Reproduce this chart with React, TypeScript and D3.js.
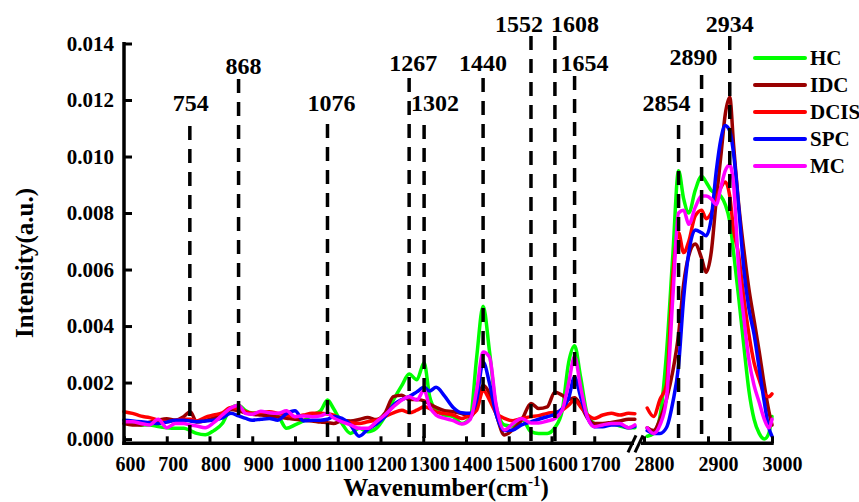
import { useEffect, useRef } from "react";
import * as d3 from "d3";

// fingerprint region (left part of the broken axis)
const lowWavenumbers = [
  600, 620, 640, 660, 680, 700, 720, 740, 755, 770,
  790, 810, 830, 850, 868, 885, 900, 920, 940, 960,
  980, 1000, 1020, 1040, 1060, 1076, 1090, 1110, 1130, 1150,
  1170, 1190, 1210, 1230, 1250, 1267, 1285, 1302, 1315, 1330,
  1350, 1370, 1390, 1410, 1425, 1440, 1455, 1470, 1490, 1510,
  1530, 1552, 1570, 1590, 1608, 1625, 1640, 1654, 1668, 1685,
  1700, 1720, 1740, 1760, 1780, 1795,
];

// high wavenumber region (right part)
const highWavenumbers = [
  2805, 2815, 2825, 2835, 2845, 2854, 2862, 2870, 2880, 2890,
  2897, 2905, 2913, 2920, 2927, 2934, 2940, 2948, 2956, 2964,
  2972, 2980, 2988, 2995, 3000,
];

const hcLow = [
  0.00067, 0.00058, 0.0005, 0.0005, 0.00044, 0.0004, 0.00038, 0.00038, 0.0003, 0.0002,
  0.00015, 0.0003, 0.00055, 0.0011, 0.0012, 0.001, 0.00092, 0.00091, 0.00085, 0.0008,
  0.00038, 0.0005, 0.00065, 0.00085, 0.001, 0.00138, 0.00108, 0.00055, 0.0002, 0.00038,
  0.00026, 0.00038, 0.00079, 0.00138, 0.0019, 0.0023, 0.0021, 0.0027, 0.0015, 0.00102,
  0.00085, 0.00079, 0.00055, 0.00075, 0.0029, 0.0047, 0.0031, 0.0012, 0.0005, 0.00046,
  0.00073, 0.00026, 0.0002, 0.0002, 0.00041, 0.001, 0.0027, 0.0033, 0.0022, 0.0008,
  0.00055, 0.00046, 0.00055, 0.00046, 0.0004, 0.0004,
];
const idcLow = [
  0.00055, 0.0005, 0.0005, 0.0006, 0.00067, 0.00072, 0.00067, 0.0008, 0.00097, 0.0006,
  0.00065, 0.00075, 0.00085, 0.00105, 0.001, 0.00092, 0.00088, 0.00085, 0.00082, 0.00078,
  0.00074, 0.0007, 0.00067, 0.00064, 0.0006, 0.00058, 0.00055, 0.00065, 0.00064, 0.00069,
  0.00076, 0.00069, 0.00091, 0.0015, 0.00155, 0.0014, 0.0014, 0.00135, 0.00124, 0.00112,
  0.001, 0.00097, 0.0009, 0.00079, 0.00114, 0.0019, 0.00161, 0.00091, 0.00014, 0.00034,
  0.00067, 0.00126, 0.00108, 0.00114, 0.00167, 0.00155, 0.0014, 0.00146, 0.0012, 0.00073,
  0.00055, 0.00055, 0.00059, 0.00064, 0.0007, 0.0007,
];
const dcisLow = [
  0.00097, 0.00091, 0.00081, 0.00076, 0.00067, 0.00061, 0.00067, 0.0007, 0.0007, 0.00064,
  0.00077, 0.00085, 0.00093, 0.00112, 0.00108, 0.00097, 0.00091, 0.00095, 0.00097, 0.00091,
  0.00085, 0.00079, 0.00085, 0.00091, 0.00091, 0.00089, 0.00085, 0.00065, 0.00058, 0.00055,
  0.00061, 0.00067, 0.00079, 0.00093, 0.00102, 0.00093, 0.00102, 0.00114, 0.00108, 0.00096,
  0.0009, 0.00085, 0.00073, 0.00085, 0.00102, 0.00173, 0.00138, 0.00093, 0.00073, 0.00065,
  0.00073, 0.00079, 0.00083, 0.00091, 0.00095, 0.00102, 0.0012, 0.00138, 0.00114, 0.00085,
  0.00073, 0.00085, 0.00091, 0.00085, 0.00091, 0.0009,
];
const spcLow = [
  0.00067, 0.00064, 0.00061, 0.00058, 0.00055, 0.0006, 0.00067, 0.00067, 0.00064, 0.00061,
  0.00064, 0.00067, 0.00075, 0.00091, 0.00082, 0.00073, 0.00067, 0.0007, 0.00073, 0.00067,
  0.0009, 0.001, 0.00064, 0.00067, 0.00067, 0.0007, 0.0008, 0.00073, 0.0005, 0.0001,
  0.00034, 0.00053, 0.00079, 0.0012, 0.0014, 0.0015, 0.00167, 0.00183, 0.0017, 0.00183,
  0.00152, 0.00112, 0.00093, 0.00091, 0.00138, 0.00273, 0.00197, 0.00091, 0.0003, 0.00032,
  0.0005, 0.00061, 0.0007, 0.00079, 0.00088, 0.00108, 0.00144, 0.0022, 0.0015, 0.00073,
  0.00044, 0.00044, 0.0005, 0.0005, 0.0004, 0.00045,
];
const mcLow = [
  0.00061, 0.00061, 0.00055, 0.0005, 0.0007, 0.0004, 0.00055, 0.00055, 0.0005, 0.00046,
  0.0004, 0.00058, 0.00085, 0.0011, 0.0012, 0.0009, 0.00088, 0.00098, 0.00093, 0.00091,
  0.001, 0.00079, 0.00082, 0.00079, 0.00082, 0.00091, 0.00075, 0.00061, 0.0005, 0.00038,
  0.00038, 0.00061, 0.00085, 0.00114, 0.00138, 0.0015, 0.00138, 0.00173, 0.00114, 0.00085,
  0.00073, 0.00065, 0.00053, 0.0007, 0.00173, 0.00308, 0.0029, 0.00126, 0.00032, 0.00055,
  0.00073, 0.00057, 0.00057, 0.00064, 0.00073, 0.00102, 0.00197, 0.00291, 0.00185, 0.00073,
  0.00044, 0.0005, 0.00055, 0.00055, 0.0004, 0.0005,
];

const hcHigh = [
  0.0001, 0.0002, 0.0008, 0.003, 0.0065, 0.0095, 0.0085, 0.008, 0.0088, 0.0093,
  0.0091, 0.0088, 0.0087, 0.0086, 0.0083, 0.0077, 0.0066, 0.005, 0.0033, 0.0017,
  0.0007, 0.0002, 0.0, 0.0002, 0.0008,
];
const idcHigh = [
  0.0004, 0.0003, 0.0007, 0.0014, 0.0024, 0.0037, 0.0055, 0.0065, 0.0069, 0.0064,
  0.0059, 0.0066, 0.0085, 0.01, 0.0115, 0.0121, 0.0104, 0.0083, 0.0067, 0.0053,
  0.0042, 0.0031, 0.0019, 0.001, 0.0005,
];
const dcisHigh = [
  0.0011, 0.0008, 0.0014, 0.0019, 0.0058, 0.0073, 0.0066, 0.007, 0.0079, 0.0081,
  0.0078, 0.008, 0.0085, 0.0089, 0.0091, 0.0086, 0.0074, 0.0065, 0.005, 0.0037,
  0.0027, 0.0021, 0.0016, 0.0015, 0.0016,
];
const spcHigh = [
  0.0003, 0.0002, 0.0002, 0.0004, 0.0013, 0.0026, 0.005, 0.0066, 0.0074, 0.0073,
  0.0072, 0.0078, 0.0095, 0.0106, 0.0111, 0.0109, 0.0101, 0.0082, 0.006, 0.0046,
  0.0037, 0.0025, 0.0013, 0.0004, 0.0001,
];
const mcHigh = [
  0.0004, 0.0002, 0.0005, 0.0014, 0.005, 0.008, 0.0081, 0.0076, 0.0082, 0.0086,
  0.0086, 0.0085, 0.0083, 0.0089, 0.0095, 0.0097, 0.009, 0.006, 0.0043, 0.0028,
  0.0019, 0.0013, 0.0007, 0.0004, 0.0007,
];

const seriesNames = ["HC", "IDC", "DCIS", "SPC", "MC"];
const seriesLow = [hcLow, idcLow, dcisLow, spcLow, mcLow];
const seriesHigh = [hcHigh, idcHigh, dcisHigh, spcHigh, mcHigh];
const seriesColors = ["#00ff00", "#990000", "#ff0000", "#0000ff", "#ff00ff"];

const peakMarks = [754, 868, 1076, 1267, 1302, 1440, 1552, 1608, 1654, 2854, 2890, 2934];

const yTicks = [0, 0.002, 0.004, 0.006, 0.008, 0.01, 0.012, 0.014];
const lowTicks = [600, 700, 800, 900, 1000, 1100, 1200, 1300, 1400, 1500, 1600, 1700];
const highTicks = [2800, 2900, 3000];

// label placement for each peak mark (shift from line, baseline, where the dashes start)
const peakLabelDx = [1, 5, 4, 4, 11, 0, -12, 20, 10, -12, -8, 0];
const peakLabelY = [111, 74, 111, 71, 111, 71, 32, 32, 71, 111, 65, 32];
const peakLineTop = [126, 79, 124, 78, 125, 78, 36, 36, 76, 125, 75, 36];

const FONT = "'Liberation Serif', 'Times New Roman', serif";

const RamanChart = () => {
  const svgRef = useRef<SVGSVGElement>(null);

  useEffect(() => {
    const width = 859;
    const height = 502;
    const axisY = 443.3;

    const svg = d3.select(svgRef.current);
    svg.selectAll("*").remove();
    svg.attr("width", width).attr("height", height).attr("viewBox", [0, 0, width, height]);

    const y = d3.scaleLinear().domain([-0.00015, 0.014]).range([axisY, 43.5]);
    const xLow = d3.scaleLinear().domain([600, 1800]).range([124, 637]);
    const xHigh = d3.scaleLinear().domain([2800, 3000]).range([644, 772]);
    const xOf = (w: number) => (w < 2000 ? xLow(w) : xHigh(w));

    // spectra
    seriesNames.forEach((_, i) => {
      const parts: [number[], number[]][] = [
        [lowWavenumbers, seriesLow[i]],
        [highWavenumbers, seriesHigh[i]],
      ];
      parts.forEach(([xs, vs]) => {
        const line = d3.line<number>()
          .x((_, j) => xOf(xs[j]))
          .y((d) => y(d))
          .curve(d3.curveMonotoneX);
        svg.append("path")
          .attr("d", line(vs))
          .attr("fill", "none")
          .attr("stroke", seriesColors[i])
          .attr("stroke-width", 3.5)
          .attr("stroke-linejoin", "round")
          .attr("stroke-linecap", "round");
      });
    });

    // dashed peak markers + labels
    peakMarks.forEach((p, i) => {
      const px = xOf(p);
      svg.append("line")
        .attr("x1", px).attr("x2", px)
        .attr("y1", peakLineTop[i]).attr("y2", axisY)
        .attr("stroke", "#000")
        .attr("stroke-width", 3.5)
        .attr("stroke-dasharray", "14,9");
      svg.append("text")
        .attr("x", px + peakLabelDx[i])
        .attr("y", peakLabelY[i])
        .attr("text-anchor", "middle")
        .attr("font-family", FONT)
        .attr("font-weight", "bold")
        .attr("font-size", 24)
        .text(p);
    });

    // y axis
    const gy = svg.append("g")
      .attr("transform", "translate(124,0)")
      .call(d3.axisLeft(y).tickValues(yTicks).tickFormat(d3.format(".3f")).tickSize(-8).tickSizeOuter(0).tickPadding(10));
    gy.select(".domain").remove();
    gy.selectAll("line").attr("stroke", "#000").attr("stroke-width", 3);
    gy.selectAll("text")
      .attr("font-family", FONT).attr("font-weight", "bold").attr("font-size", 21).attr("fill", "#000");

    svg.append("line")
      .attr("x1", 124).attr("x2", 124).attr("y1", 42).attr("y2", axisY + 1.7)
      .attr("stroke", "#000").attr("stroke-width", 3.5);

    // x axes, left and right of the break
    const styleX = (g: d3.Selection<SVGGElement, unknown, null, undefined>, dx: number) => {
      g.select(".domain").remove();
      g.selectAll("line").attr("stroke", "#000").attr("stroke-width", 3);
      g.selectAll("text")
        .attr("dx", dx)
        .attr("font-family", FONT).attr("font-weight", "bold").attr("font-size", 20).attr("fill", "#000");
    };
    const gxl = svg.append("g")
      .attr("transform", `translate(0,${axisY})`)
      .call(d3.axisBottom(xLow).tickValues(lowTicks).tickFormat(d3.format("d")).tickSize(-7).tickSizeOuter(0).tickPadding(14));
    styleX(gxl, 6);
    const gxh = svg.append("g")
      .attr("transform", `translate(0,${axisY})`)
      .call(d3.axisBottom(xHigh).tickValues(highTicks).tickFormat(d3.format("d")).tickSize(-7).tickSizeOuter(0).tickPadding(14));
    styleX(gxh, 10);

    svg.append("line")
      .attr("x1", 122.3).attr("x2", 634).attr("y1", axisY).attr("y2", axisY)
      .attr("stroke", "#000").attr("stroke-width", 3.5);
    svg.append("line")
      .attr("x1", 641).attr("x2", 773.7).attr("y1", axisY).attr("y2", axisY)
      .attr("stroke", "#000").attr("stroke-width", 3.5);

    // axis break marks
    [632, 639].forEach((bx) => {
      svg.append("line")
        .attr("x1", bx - 4).attr("y1", axisY + 9)
        .attr("x2", bx + 4).attr("y2", axisY - 8)
        .attr("stroke", "#000").attr("stroke-width", 3);
    });

    // axis titles
    svg.append("text")
      .attr("transform", "translate(33,263) rotate(-90)")
      .attr("text-anchor", "middle")
      .attr("font-family", FONT).attr("font-weight", "bold").attr("font-size", 25)
      .text("Intensity(a.u.)");

    const xt = svg.append("text")
      .attr("x", 446).attr("y", 496)
      .attr("text-anchor", "middle")
      .attr("font-family", FONT).attr("font-weight", "bold").attr("font-size", 25);
    xt.append("tspan").text("Wavenumber(cm");
    xt.append("tspan").attr("dy", -10).attr("font-size", 15).text("-1");
    xt.append("tspan").attr("dy", 10).text(")");

    // legend
    seriesNames.forEach((name, i) => {
      const ly = 58 + i * 27;
      svg.append("line")
        .attr("x1", 755).attr("x2", 805).attr("y1", ly).attr("y2", ly)
        .attr("stroke", seriesColors[i]).attr("stroke-width", 4).attr("stroke-linecap", "round");
      svg.append("text")
        .attr("x", 810).attr("y", ly).attr("dy", "0.34em")
        .attr("font-family", FONT).attr("font-weight", "bold").attr("font-size", 21)
        .text(name);
    });
  }, []);

  return <svg ref={svgRef} style={{ position: "absolute", left: 0, top: 0, background: "#fff" }}></svg>;
};

export default function App() {
  return <RamanChart />;
}
